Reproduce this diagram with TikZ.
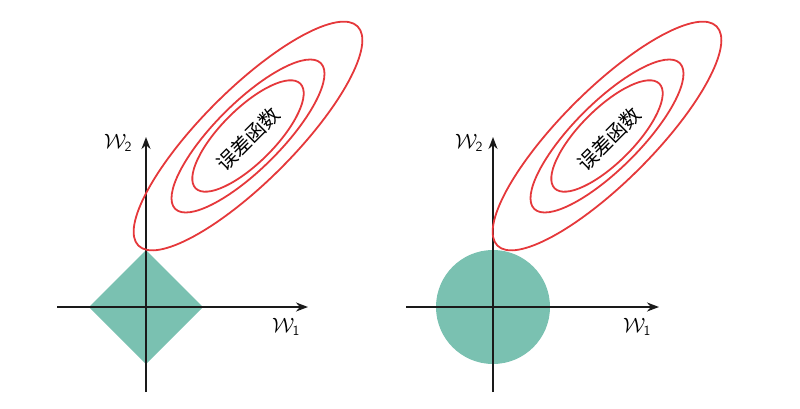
\documentclass[tikz,border=0pt]{standalone}
\usepackage{fontspec}
\newfontfamily\cjk{Noto Sans CJK SC}
\usetikzlibrary{arrows.meta}
\definecolor{contourred}{HTML}{E5383B}
\definecolor{regionteal}{HTML}{7AC1B1}
\definecolor{axisblack}{HTML}{1A1A1A}
\tikzset{
  axis/.style={axisblack, line width=2pt, -{Stealth[length=12pt,width=9pt]}},
  contour/.style={contourred, line width=1.8pt},
  region/.style={fill=regionteal, draw=none},
  axislabel/.style={font=\fontsize{20}{24}\selectfont, inner sep=0pt},
  losslabel/.style={font=\cjk\fontsize{20}{22}\selectfont, rotate=45, inner sep=0pt}
}
\begin{document}
\begin{tikzpicture}[x=1pt, y=1pt]
            \useasboundingbox (0,0) rectangle (800,408);

            % Left: L1 constraint (diamond)
            \fill[region] (146,158) -- (203,101) -- (146,44) -- (89,101) -- cycle;
            \coordinate (lx0) at (57,101);
            \coordinate (lx1) at (308,101);
            \coordinate (ly0) at (146,16);
            \coordinate (ly1) at (146,271);
            \draw[axis] (lx0) -- (lx1);
            \draw[axis] (ly0) -- (ly1);
            \node[axislabel] (lw1) at (286,81) {$\mathcal{W}_{\mathsf{1}}$};
            \node[axislabel] (lw2) at (118,265) {$\mathcal{W}_{\mathsf{2}}$};

            % Left: error contours
            \draw[contour, rotate around={45:(248,272)}] (248,272) ellipse (155 and 46);
            \draw[contour, rotate around={45:(248,272)}] (248,272) ellipse (103 and 33);
            \draw[contour, rotate around={45:(248,272)}] (248,272) ellipse (74 and 27);
            \node[losslabel] (lloss) at (248,269) {误差函数};

            % Right: L2 constraint (disc)
            \fill[region] (493,101) circle (57);
            \coordinate (rx0) at (406,101);
            \coordinate (rx1) at (659,101);
            \coordinate (ry0) at (493,16);
            \coordinate (ry1) at (493,271);
            \draw[axis] (rx0) -- (rx1);
            \draw[axis] (ry0) -- (ry1);
            \node[axislabel] (rw1) at (637,81) {$\mathcal{W}_{\mathsf{1}}$};
            \node[axislabel] (rw2) at (469,265) {$\mathcal{W}_{\mathsf{2}}$};

            % Right: error contours
            \draw[contour, rotate around={45:(607,272)}] (607,272) ellipse (155 and 46);
            \draw[contour, rotate around={45:(607,272)}] (607,272) ellipse (103 and 33);
            \draw[contour, rotate around={45:(607,272)}] (607,272) ellipse (74 and 27);
            \node[losslabel] (rloss) at (609,269) {误差函数};
\end{tikzpicture}
\end{document}
